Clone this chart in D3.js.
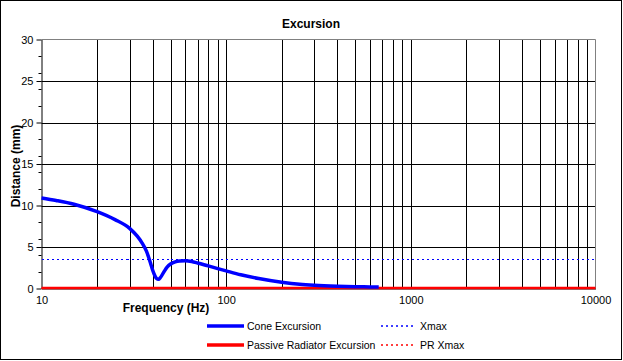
<!DOCTYPE html>
<html>
<head>
<meta charset="utf-8">
<script src="https://cdn.jsdelivr.net/npm/d3@7"></script>
<style>
  body { margin: 0; background: #fff; }
  svg { display: block; font-family: "Liberation Sans", Arial, sans-serif; }
</style>
</head>
<body>
<script>
// data
var freqs = [10, 12, 15, 20, 25, 30, 33, 35, 37, 39, 40, 41, 42, 43, 44, 46, 48, 50, 53, 56, 60, 65, 70, 80, 90, 100, 120, 150, 200, 250, 300, 400, 500, 600, 670];
var coneExcursion = [10.9, 10.6, 10.15, 9.25, 8.3, 7.25, 6.3, 5.5, 4.5, 3.0, 2.2, 1.6, 1.2, 1.1, 1.3, 2.0, 2.6, 2.95, 3.2, 3.3, 3.33, 3.25, 3.08, 2.72, 2.4, 2.12, 1.65, 1.2, 0.75, 0.5, 0.38, 0.27, 0.22, 0.19, 0.17];
var prFreqs = [10, 10000];
var prExcursion = [0, 0];
var xmax = 3.6;
var prXmax = 0;
var xTicks = [10, 100, 1000, 10000];
var yTicks = [0, 5, 10, 15, 20, 25, 30];

var width = 623, height = 361;

var svg = d3.select("body").append("svg")
    .attr("width", width)
    .attr("height", height);

// outer frame
svg.append("rect")
    .attr("x", 0.5).attr("y", 0.5)
    .attr("width", 621).attr("height", 359)
    .attr("fill", "#fff")
    .attr("stroke", "#000");

var x = d3.scaleLog().domain([10, 10000]).range([41.5, 595.5]);
var y = d3.scaleLinear().domain([0, 30]).range([288.5, 39.5]);

// vertical grid at every log tick
var vgrid = [];
[10, 100, 1000].forEach(function(dec) {
    for (var k = 2; k <= 10; k++) vgrid.push(dec * k);
});
vgrid = vgrid.filter(function(d) { return d < 10000; });

svg.append("g").selectAll("line")
    .data(vgrid)
    .enter().append("line")
    .attr("x1", function(d) { return Math.round(x(d)) + 0.5; })
    .attr("x2", function(d) { return Math.round(x(d)) + 0.5; })
    .attr("y1", y(30)).attr("y2", y(0))
    .attr("stroke", "#000");

// horizontal grid
svg.append("g").selectAll("line")
    .data([5, 10, 15, 20, 25])
    .enter().append("line")
    .attr("x1", x(10)).attr("x2", x(10000))
    .attr("y1", function(d) { return Math.round(y(d)) + 0.5; })
    .attr("y2", function(d) { return Math.round(y(d)) + 0.5; })
    .attr("stroke", "#000");

// plot area border top / right (gray)
svg.append("path")
    .attr("d", "M" + x(10) + "," + y(30) + "H" + x(10000) + "V" + y(0))
    .attr("fill", "none")
    .attr("stroke", "#808080");

// y axis
var yAxis = svg.append("g")
    .attr("transform", "translate(" + x(10) + ",0)")
    .call(d3.axisLeft(y).tickValues(yTicks).tickSize(5).tickSizeOuter(0).tickPadding(3));
yAxis.select(".domain").attr("stroke", "#000");
yAxis.selectAll("text").style("font-size", "11px").attr("fill", "#000")
    .attr("font-family", "Liberation Sans, Arial, sans-serif");

// y minor ticks
svg.append("g").selectAll("line")
    .data(d3.range(2, 30, 2).filter(function(d) { return d % 5 !== 0; }))
    .enter().append("line")
    .attr("x1", x(10) - 3).attr("x2", x(10))
    .attr("y1", function(d) { return Math.round(y(d)) + 0.5; })
    .attr("y2", function(d) { return Math.round(y(d)) + 0.5; })
    .attr("stroke", "#000");

// x axis
var xAxis = svg.append("g")
    .attr("transform", "translate(0," + y(0) + ")")
    .call(d3.axisBottom(x).tickValues(xTicks).tickFormat(d3.format("d")).tickSize(0).tickPadding(8));
xAxis.select(".domain").attr("stroke", "#000");
xAxis.selectAll("text").style("font-size", "11px").attr("fill", "#000")
    .attr("font-family", "Liberation Sans, Arial, sans-serif");

// Xmax line
svg.append("line")
    .attr("x1", x(10)).attr("x2", x(10000))
    .attr("y1", Math.round(y(xmax)) + 0.5).attr("y2", Math.round(y(xmax)) + 0.5)
    .attr("stroke", "#0000ff")
    .attr("stroke-width", 1.3)
    .attr("shape-rendering", "crispEdges")
    .attr("stroke-dasharray", "2,3");

// passive radiator excursion (red, at zero)
var prData = prFreqs.map(function(f, i) { return {f: f, v: prExcursion[i]}; });
svg.append("path")
    .datum(prData)
    .attr("fill", "none")
    .attr("stroke", "#ff0000")
    .attr("stroke-width", 2.5)
    .attr("d", d3.line().x(function(d) { return x(d.f); }).y(function(d) { return y(d.v) - 0.5; }));

svg.append("line")
    .attr("x1", x(10)).attr("x2", x(10000))
    .attr("y1", y(prXmax)).attr("y2", y(prXmax))
    .attr("stroke", "#ff0000")
    .attr("stroke-dasharray", "2,3");

// cone excursion
var coneData = freqs.map(function(f, i) { return {f: f, v: coneExcursion[i]}; });
svg.append("path")
    .datum(coneData)
    .attr("fill", "none")
    .attr("stroke", "#0000ff")
    .attr("stroke-width", 3.5)
    .attr("d", d3.line()
        .curve(d3.curveMonotoneX)
        .x(function(d) { return x(d.f); })
        .y(function(d) { return y(d.v); }));

// title
svg.append("text")
    .attr("x", 311).attr("y", 28)
    .attr("text-anchor", "middle")
    .style("font-size", "12px")
    .style("font-weight", "bold")
    .text("Excursion");

// axis titles
svg.append("text")
    .attr("x", 166).attr("y", 312)
    .attr("text-anchor", "middle")
    .style("font-size", "12px")
    .style("font-weight", "bold")
    .text("Frequency (Hz)");

svg.append("text")
    .attr("transform", "translate(20,166) rotate(-90)")
    .attr("text-anchor", "middle")
    .style("font-size", "12px")
    .style("font-weight", "bold")
    .text("Distance (mm)");

// legend
var legend = [
    {label: "Cone Excursion", color: "#0000ff", dash: null, w: 3.5, lx: 207, ly: 326},
    {label: "Xmax", color: "#0000ff", dash: "2,3", w: 1.3, lx: 381, ly: 326},
    {label: "Passive Radiator Excursion", color: "#ff0000", dash: null, w: 3.5, lx: 207, ly: 345},
    {label: "PR Xmax", color: "#ff0000", dash: "2,3", w: 1.3, lx: 381, ly: 345}
];

var lg = svg.append("g").selectAll("g")
    .data(legend)
    .enter().append("g");

lg.append("line")
    .attr("x1", function(d) { return d.lx; })
    .attr("x2", function(d) { return d.lx + (d.dash ? 34 : 37); })
    .attr("y1", function(d) { return d.ly; })
    .attr("y2", function(d) { return d.ly; })
    .attr("stroke", function(d) { return d.color; })
    .attr("stroke-width", function(d) { return d.w; })
    .attr("stroke-dasharray", function(d) { return d.dash; });

lg.append("text")
    .attr("x", function(d) { return d.lx + (d.dash ? 39 : 40); })
    .attr("y", function(d) { return d.ly + 4; })
    .style("font-size", "10.5px")
    .text(function(d) { return d.label; });
</script>
</body>
</html>
